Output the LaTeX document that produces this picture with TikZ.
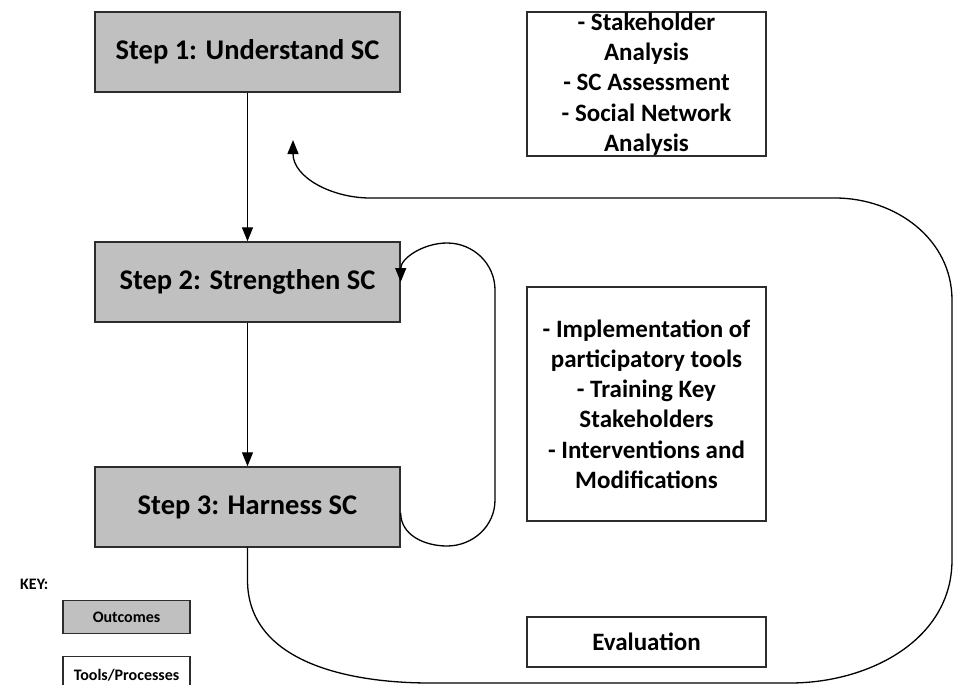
\documentclass[tikz,border=0pt]{standalone}
\usepackage{fontspec}
\setmainfont{Carlito}
\usetikzlibrary{arrows.meta}
\definecolor{boxgray}{RGB}{192,192,192}
\definecolor{edge}{RGB}{45,45,45}
\tikzset{
  outcome/.style={draw=edge, line width=1.4pt, fill=boxgray, minimum width=305pt, minimum height=80pt, inner sep=0pt,
    font=\fontsize{28.5}{32}\selectfont\bfseries},
  toolbox/.style={draw=edge, line width=1.4pt, fill=white, minimum width=239pt, inner sep=0pt, align=center,
    font=\fontsize{25}{30.2}\selectfont\bfseries},
  keybox/.style={draw=edge, line width=1.2pt, minimum width=127pt, inner sep=0pt, font=\fontsize{16}{18}\selectfont\bfseries},
  conn/.style={draw=black, line width=1.3pt},
  arr/.style={conn, -{Triangle[length=14pt,width=11pt]}}
}
\begin{document}
\begin{tikzpicture}[x=1pt,y=-1pt]
\useasboundingbox (0,0) rectangle (954,685);
% outcomes
\node[outcome] (s1) at (247.5,52) {Step 1: Understand SC};
\node[outcome] (s2) at (247.5,282) {Step 2: Strengthen SC};
\node[outcome] (s3) at (247.5,507) {Step 3: Harness SC};
% tools
\node[toolbox, minimum height=144pt] (t1) at (646.5,84) {- Stakeholder\\Analysis\\- SC Assessment\\- Social Network\\Analysis};
\node[toolbox, minimum height=234pt] (t2) at (646.5,404) {- Implementation of\\participatory tools\\- Training Key\\Stakeholders\\- Interventions and\\Modifications};
\node[toolbox, minimum height=50pt] (t3) at (646.5,642) {Evaluation};
% key
\node[anchor=west, inner sep=0pt, font=\fontsize{16}{18}\selectfont\bfseries] (key) at (20,584) {KEY:};
\node[keybox, fill=boxgray, minimum height=33pt] (k1) at (126.5,617) {Outcomes};
\node[keybox, fill=white, minimum height=34pt, anchor=north] (k2) at (126.5,656) {};
\node[font=\fontsize{16}{18}\selectfont\bfseries] (k2t) at (126.5,675) {Tools/Processes};
% connectors
\draw[arr] (s1.south) -- (s2.north);
\draw[arr] (s2.south) -- (s3.north);
\draw[arr] ([yshift=-6pt]s3.east) to[out=-90,in=180] (447,546) to[out=0,in=-90] (495,500) -- (495,290)
  to[out=90,in=0] (447,243) to[out=180,in=90] (s2.east);
\coordinate (fb) at (293,140);
\draw[arr] (s3.south) -- (247.5,580) to[out=-90,in=180] (430,683) -- (790,683) to[out=0,in=-90] (952,560)
  -- (952,300) to[out=90,in=0] (835,198) -- (370,198) to[out=180,in=-90] (fb);
\end{tikzpicture}
\end{document}
